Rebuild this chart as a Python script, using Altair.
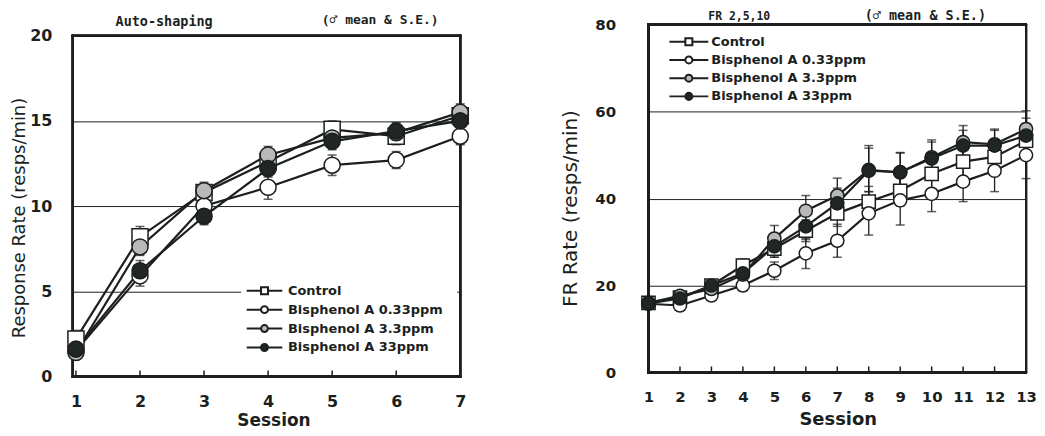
import altair as alt
import pandas as pd

groups = ["Control", "Bisphenol A 0.33ppm", "Bisphenol A 3.3ppm", "Bisphenol A 33ppm"]
fills = ["white", "white", "#b9b9b9", "#1f2623"]
shapes = ["square", "circle", "circle", "circle"]

# Auto-shaping (left panel)
sessions_auto = [1, 2, 3, 4, 5, 6, 7]
auto_control = [2.2, 8.2, 10.8, 12.6, 14.5, 14.1, 15.3]
auto_b033 = [1.5, 5.9, 10.0, 11.1, 12.4, 12.7, 14.1]
auto_b33 = [1.4, 7.6, 10.9, 13.0, 14.0, 14.3, 15.5]
auto_b330 = [1.6, 6.2, 9.4, 12.2, 13.8, 14.4, 15.0]
auto_se_control = [0.5, 0.6, 0.5, 0.5, 0.5, 0.5, 0.5]
auto_se_b033 = [0.4, 0.6, 0.5, 0.7, 0.6, 0.5, 0.5]
auto_se_b33 = [0.4, 0.5, 0.5, 0.5, 0.5, 0.5, 0.5]
auto_se_b330 = [0.4, 0.6, 0.5, 0.5, 0.5, 0.5, 0.5]

# FR 2,5,10 (right panel)
sessions_fr = [1, 2, 3, 4, 5, 6, 7, 8, 9, 10, 11, 12, 13]
fr_control = [16.0, 17.2, 20.0, 24.6, 28.5, 32.6, 36.6, 39.3, 41.8, 45.7, 48.5, 49.6, 53.3]
fr_b033 = [15.8, 15.4, 17.7, 20.0, 23.4, 27.4, 30.3, 36.6, 39.6, 41.1, 43.9, 46.4, 50.0]
fr_b33 = [16.0, 17.6, 19.2, 22.5, 30.8, 37.2, 40.7, 46.6, 46.0, 49.5, 53.0, 52.5, 56.0]
fr_b330 = [15.9, 17.0, 20.0, 22.8, 29.0, 33.6, 38.9, 46.4, 46.1, 49.2, 52.2, 52.2, 54.5]
fr_se_control = [1.0, 1.0, 1.2, 1.5, 2.0, 2.5, 3.0, 3.5, 3.5, 4.0, 3.5, 3.5, 4.0]
fr_se_b033 = [1.0, 1.0, 1.0, 1.2, 2.0, 3.5, 3.8, 5.0, 5.7, 4.1, 4.6, 4.8, 5.4]
fr_se_b33 = [1.0, 1.0, 1.0, 1.2, 3.0, 3.5, 4.0, 5.0, 4.5, 4.0, 3.8, 3.5, 4.2]
fr_se_b330 = [1.0, 1.0, 1.0, 1.2, 2.5, 3.0, 3.5, 5.8, 4.5, 3.8, 3.5, 3.5, 4.0]


def long_df(sessions, values, ses):
    rows = []
    for gi, (g, vals, se) in enumerate(zip(groups, values, ses)):
        for s, v, e in zip(sessions, vals, se):
            rows.append({"group": g, "order": gi, "session": s, "value": v,
                         "lo": v - e, "hi": v + e})
    return pd.DataFrame(rows)


df_auto = long_df(sessions_auto, [auto_control, auto_b033, auto_b33, auto_b330],
                  [auto_se_control, auto_se_b033, auto_se_b33, auto_se_b330])
df_fr = long_df(sessions_fr, [fr_control, fr_b033, fr_b33, fr_b330],
                [fr_se_control, fr_se_b033, fr_se_b33, fr_se_b330])

INK = "#1b1f1d"
FONT = "DejaVu Sans"
MONO = "DejaVu Sans Mono"


def sym_paths(L, r):
    circ = f"M-{L},0H-{r}M{r},0H{L}M-{r},0A{r},{r},0,1,1,{r},0A{r},{r},0,1,1,-{r},0Z"
    sq = f"M-{L},0H-{r}M{r},0H{L}M-{r},-{r}H{r}V{r}H-{r}Z"
    return circ, sq


def panel(df, sessions, xdom, ydom, frame_top, yvals, w, h, ytitle, msize, leg, texts,
          lab_size, ylab_pad, ytitle_size, ytitle_pad, ytitle_y, xtitle_size, xlab_pad,
          xtitle_pad, xtitle_x, sym_size, L, r):
    circ, sq = sym_paths(L, r)
    xs = alt.Scale(domain=xdom, nice=False, zero=False)
    ys = alt.Scale(domain=ydom, nice=False, zero=False)
    xaxis = alt.Axis(values=sessions, format="d", ticks=False, grid=False,
                     labelFontSize=lab_size, labelOverlap=False, labelSeparation=0,
                     labelFontWeight="bold", labelFont=FONT, labelColor=INK,
                     labelPadding=xlab_pad, titleFontSize=xtitle_size, titleFont=FONT,
                     titleFontWeight="bold", titleColor=INK, titlePadding=xtitle_pad,
                     titleX=xtitle_x, labelFlush=False)
    yaxis = alt.Axis(values=yvals, format="d", ticks=False, grid=True, gridColor=INK,
                     gridWidth=1, gridOpacity=1, labelFontSize=lab_size,
                     labelFontWeight="bold", labelOverlap=False,
                     labelFont=FONT, labelColor=INK, labelPadding=ylab_pad,
                     titleFontSize=ytitle_size, titleFont=FONT, titleFontWeight="normal",
                     titleColor=INK, titlePadding=ytitle_pad, titleY=ytitle_y,
                     labelFlush=False)
    X = alt.X("session:Q", scale=xs, axis=xaxis, title="Session")
    base = alt.Chart(df)

    def Y(field):
        return alt.Y(field, scale=ys, axis=yaxis, title=ytitle)

    def XD(v):
        return alt.XDatum(v, scale=xs, axis=xaxis, title="Session")

    def YD(v):
        return alt.YDatum(v, scale=ys, axis=yaxis, title=ytitle)

    bars = base.mark_rule(color=INK, strokeWidth=1.3).encode(x=X, y=Y("lo:Q"), y2="hi:Q")
    cap_lo = base.mark_tick(orient="horizontal", size=9, thickness=1.5, color=INK).encode(
        x=X, y=Y("lo:Q"))
    cap_hi = base.mark_tick(orient="horizontal", size=9, thickness=1.5, color=INK).encode(
        x=X, y=Y("hi:Q"))
    lines = base.mark_line(color=INK, strokeWidth=2.2).encode(
        x=X, y=Y("value:Q"), detail="group:N", order="session:Q")
    pts = base.mark_point(filled=True, stroke=INK, strokeWidth=1.5, opacity=1,
                          size=msize).encode(
        x=X, y=Y("value:Q"),
        shape=alt.Shape("group:N", scale=alt.Scale(domain=groups, range=shapes), legend=None),
        fill=alt.Fill("group:N", scale=alt.Scale(domain=groups, range=fills), legend=None),
        order="order:Q")
    legprops = dict(title=None, orient="none", labelFont=FONT, labelFontSize=13,
                    labelFontWeight="bold", labelColor=INK, symbolSize=sym_size,
                    symbolStrokeWidth=2, symbolOpacity=1, fillColor="white", **leg)
    legpts = base.mark_point(filled=True, opacity=0, size=10).encode(
        x=X, y=Y("value:Q"),
        shape=alt.Shape("group:N", scale=alt.Scale(domain=groups, range=[sq, circ, circ, circ]),
                        legend=alt.Legend(**legprops)),
        fill=alt.Fill("group:N", scale=alt.Scale(domain=groups, range=fills),
                      legend=alt.Legend(**legprops)),
        stroke=alt.Stroke("group:N", scale=alt.Scale(domain=groups, range=[INK] * 4),
                          legend=alt.Legend(**legprops)))
    ticks_df = pd.DataFrame({"session": sessions})
    tk = alt.Chart(ticks_df).mark_rule(color=INK, strokeWidth=1.5).encode(
        x=X, y=alt.value(h), y2=alt.value(h - 6))
    # plot frame
    fr = dict(color=INK, strokeWidth=2, strokeCap="square")
    f_left = alt.Chart(ticks_df).mark_rule(**fr).encode(
        x=XD(xdom[0]), y=YD(ydom[0]), y2=alt.datum(frame_top))
    f_right = alt.Chart(ticks_df).mark_rule(**fr).encode(
        x=XD(xdom[1]), y=YD(ydom[0]), y2=alt.datum(frame_top))
    f_top = alt.Chart(ticks_df).mark_rule(**fr).encode(
        y=YD(frame_top), x=XD(xdom[0]), x2=alt.datum(xdom[1]))
    f_bot = alt.Chart(ticks_df).mark_rule(**fr).encode(
        y=YD(ydom[0]), x=XD(xdom[0]), x2=alt.datum(xdom[1]))
    layers = [tk, f_left, f_right, f_top, f_bot, bars, cap_lo, cap_hi, lines, pts, legpts]
    for (t, tx, ty, fs) in texts:
        layers.append(alt.Chart(pd.DataFrame({"t": [t]})).mark_text(
            align="left", baseline="middle", font=MONO, fontSize=fs, fontWeight="bold",
            color=INK).encode(x=alt.value(tx), y=alt.value(ty), text="t:N"))
    return alt.layer(*layers).resolve_scale(
        shape="independent", fill="independent", stroke="independent").properties(
        width=w, height=h)


HL = 353
left = panel(df_auto, sessions_auto, [0.95, 7], [0, 20 * HL / 342], 20, [0, 5, 10, 15, 20],
             389, HL, "Response Rate (resps/min)", 260,
             dict(legendX=169, legendY=243.5, padding=14, labelOffset=14, rowPadding=2),
             [("Auto-shaping", 43, -2.5, 13.5), ("(♂ mean & S.E.)", 250, -4.5, 13)],
             lab_size=16, ylab_pad=21, ytitle_size=18, ytitle_pad=1, ytitle_y=193.5,
             xtitle_size=17, xlab_pad=17.5, xtitle_pad=3, xtitle_x=201.5,
             sym_size=289, L=2.1, r=0.41)

right = panel(df_fr, sessions_fr, [1, 13], [0, 80], 80, [0, 20, 40, 60, 80], 379, 349,
              "FR Rate (resps/min)", 175,
              dict(legendX=27.5, legendY=4, padding=4, labelOffset=13.5, rowPadding=1.3),
              [("FR 2,5,10", 60, -8, 11.5), ("(♂ mean & S.E.)", 217, -8.5, 13.5)],
              lab_size=15, ylab_pad=33, ytitle_size=20, ytitle_pad=14, ytitle_y=184,
              xtitle_size=18, xlab_pad=17, xtitle_pad=6, xtitle_x=190,
              sym_size=256, L=2.44, r=0.44)

chart = alt.hconcat(left, right, spacing=88).resolve_scale(
    fill="independent", shape="independent", stroke="independent").resolve_legend(
    fill="independent", shape="independent", stroke="independent").properties(
    padding={"left": 2, "top": 0, "right": 0, "bottom": 0},
    background="white").configure_view(stroke="transparent").configure_axis(
    domain=False, labelOverlap=False)

chart.save("out.html", embed_options={"renderer": "svg", "actions": False})
